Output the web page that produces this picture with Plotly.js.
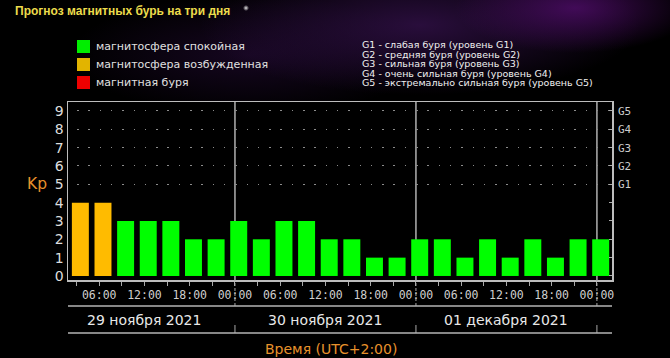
<!DOCTYPE html>
<html><head><meta charset="utf-8">
<script src="https://cdn.plot.ly/plotly-3.0.1.min.js"></script>
<style>
html,body{margin:0;padding:0;width:670px;height:358px;overflow:hidden;}
body{background:
 radial-gradient(circle 3px at 246px 8px, rgba(255,255,255,0.9), rgba(255,255,255,0) 100%),
 radial-gradient(ellipse 120px 45px at 575px 8px, rgba(75,12,100,0.85), rgba(0,0,0,0) 100%),
 radial-gradient(ellipse 220px 70px at 420px 25px, rgba(55,18,80,0.75), rgba(0,0,0,0) 100%),
 radial-gradient(ellipse 180px 60px at 250px 55px, rgba(40,12,60,0.55), rgba(0,0,0,0) 100%),
 #000;}
#chart{width:670px;height:358px;}
</style></head><body><div id="chart"></div>
<script>
// ---- data ----
const chartTitle = 'Прогноз магнитных бурь на три дня';
const days = ['29 ноября 2021', '30 ноября 2021', '01 декабря 2021'];
const slotHours = [3, 6, 9, 12, 15, 18, 21, 24];
const kp = [4, 4, 3, 3, 3, 2, 2, 3,
            2, 3, 3, 2, 2, 1, 1, 2,
            2, 1, 2, 1, 2, 1, 2, 2];
const kpTicks = [0, 1, 2, 3, 4, 5, 6, 7, 8, 9];
const gLevels = ['G1', 'G2', 'G3', 'G4', 'G5'];
const gKp = [5, 6, 7, 8, 9];
const timeTickLabels = ['06:00', '12:00', '18:00', '00:00'];
const legendLabels = ['магнитосфера спокойная', 'магнитосфера возбужденная', 'магнитная буря'];
const stormNotes = [
  'G1 - слабая буря (уровень G1)',
  'G2 - средняя буря (уровень G2)',
  'G3 - сильная буря (уровень G3)',
  'G4 - очень сильная буря (уровень G4)',
  'G5 - экстремально сильная буря (уровень G5)'
];
const yTitle = 'Kp';
const xTitle = 'Время (UTC+2:00)';

// ---- styles ----
const C_GREEN = '#00ff00', C_ORANGE = '#ffbb00', C_RED = '#ff0000';
const legendColors = ['#00ee00', '#e2b400', '#ee0000'];
const FRAME = '#bdbdbd';
const L = 68, R = 612, T = 102, B = 280;
const px = v => (v - L) / (R - L);
const py = v => (B - v) / (B - T);

const x = kp.map((_, i) => Math.floor(i / 8) * 24 + slotHours[i % 8]);
const barColor = v => v >= 5 ? C_RED : (v >= 4 ? C_ORANGE : C_GREEN);
const tickText = x.map(h => h % 6 === 0 ? timeTickLabels[((h % 24) / 6 + 3) % 4] : '');

const traces = [
  {type: 'bar', x: x, y: kp, width: 2.25, offset: -0.625,
   marker: {color: kp.map(barColor), line: {width: 0}},
   hoverinfo: 'x+y', showlegend: false},
  {type: 'scatter', x: [x[0]], y: [kp[0]], yaxis: 'y2', mode: 'markers',
   marker: {opacity: 0}, hoverinfo: 'skip', showlegend: false},
  {type: 'scatter', x: [x[0]], y: [kp[0]], yaxis: 'y3', mode: 'markers',
   marker: {opacity: 0}, hoverinfo: 'skip', showlegend: false}
];

const shapes = [], annotations = [];
const ann = (o) => annotations.push(Object.assign({showarrow: false, xanchor: 'center', yanchor: 'middle'}, o));
for (let d = 1; d <= days.length; d++) {
  shapes.push({type: 'line', xref: 'x', yref: 'paper', x0: 24 * d, x1: 24 * d, y0: 0, y1: 1,
    line: {color: '#b0b0b0', width: 1.5}, layer: 'below'});
  shapes.push({type: 'line', xref: 'x', yref: 'paper', x0: 24 * d, x1: 24 * d, y0: py(306), y1: 0,
    line: {color: '#a8a8a8', width: 1, dash: '3px,2px'}});
  shapes.push({type: 'line', xref: 'x', yref: 'paper', x0: 24 * d, x1: 24 * d, y0: py(333), y1: py(325),
    line: {color: '#a8a8a8', width: 1}});
}
[306, 333].forEach(yy => shapes.push({type: 'line', xref: 'paper', yref: 'paper', x0: 0, x1: 1,
  y0: py(yy), y1: py(yy), line: {color: '#b5b5b5', width: 1.5}}));

days.forEach((d, i) => ann({text: d, xref: 'x', yref: 'paper', x: 12 + 24 * i, y: py(319.5),
  font: {family: 'DejaVu Sans', size: 14, color: '#e8e8e8'}}));
ann({text: xTitle, xref: 'paper', yref: 'paper', x: px(331), y: py(349),
  font: {family: 'DejaVu Sans', size: 14, color: '#e8922c'}});
ann({text: yTitle, xref: 'paper', yref: 'paper', x: px(37), y: py(184),
  font: {family: 'DejaVu Sans', size: 15.5, color: '#e8922c'}});

legendLabels.forEach((t, i) => {
  const cy = 46.5 + 18 * i;
  shapes.push({type: 'rect', xref: 'paper', yref: 'paper', x0: px(77), x1: px(90), y0: py(cy + 6.5), y1: py(cy - 6.5),
    fillcolor: legendColors[i], line: {width: 0}});
  ann({text: t, xref: 'paper', yref: 'paper', x: px(93.5), y: py(cy), xanchor: 'left',
    font: {family: 'DejaVu Sans', size: 11, color: '#e0e0e0'}});
});
stormNotes.forEach((t, i) => ann({text: t, xref: 'paper', yref: 'paper', x: px(360),
  y: py(44.5 + 9.6 * i), xanchor: 'left',
  font: {family: 'DejaVu Sans', size: 9.5, color: '#f0f0f0'}}));

const yRange = [-0.22, 9.49];
const layout = {
  width: 670, height: 358,
  margin: {l: L, r: 670 - R, t: T, b: 358 - B, pad: 0},
  paper_bgcolor: 'rgba(0,0,0,0)', plot_bgcolor: '#000',
  title: {text: chartTitle, xref: 'container', yref: 'container', x: 15 / 670, xanchor: 'left',
    y: 1 - 10.5 / 358, yanchor: 'middle',
    font: {family: 'Liberation Sans', size: 12, weight: 'bold', color: '#ecdc4c'}},
  barmode: 'overlay', showlegend: false,
  xaxis: {range: [1.86, 74.0], tickvals: x, ticktext: tickText, ticks: 'outside', ticklen: 4,
    tickcolor: '#aaaaaa', tickfont: {family: 'DejaVu Sans Mono', size: 11.5, color: '#cfcfcf'},
    showline: true, linecolor: FRAME, linewidth: 1.5, mirror: true, showgrid: false, zeroline: false,
    fixedrange: true},
  yaxis: {range: yRange, tickvals: kpTicks, ticks: '', showline: true, linecolor: FRAME, linewidth: 1.5,
    mirror: true, showgrid: false, zeroline: false, fixedrange: true,
    tickfont: {family: 'DejaVu Sans', size: 14, color: '#dddddd'}},
  yaxis2: {range: yRange, overlaying: 'y', side: 'right', tickvals: kpTicks,
    ticktext: kpTicks.map(k => { const j = gKp.indexOf(k); return j >= 0 ? gLevels[j] : ''; }),
    ticks: 'inside', ticklen: 3, tickcolor: '#aaaaaa', showgrid: false, zeroline: false, showline: false,
    ticklabelstandoff: 5,
    tickfont: {family: 'DejaVu Sans Mono', size: 11, color: '#cccccc'}, fixedrange: true},
  yaxis3: {range: yRange, overlaying: 'y', tickvals: gKp, showticklabels: false, ticks: '',
    showgrid: true, gridcolor: '#8c8c8c', gridwidth: 1, griddash: '0px,9px,1.5px,0.8px',
    zeroline: false, showline: false, fixedrange: true},
  shapes: shapes, annotations: annotations
};
Plotly.newPlot('chart', traces, layout, {displayModeBar: false, staticPlot: true});
</script></body></html>
